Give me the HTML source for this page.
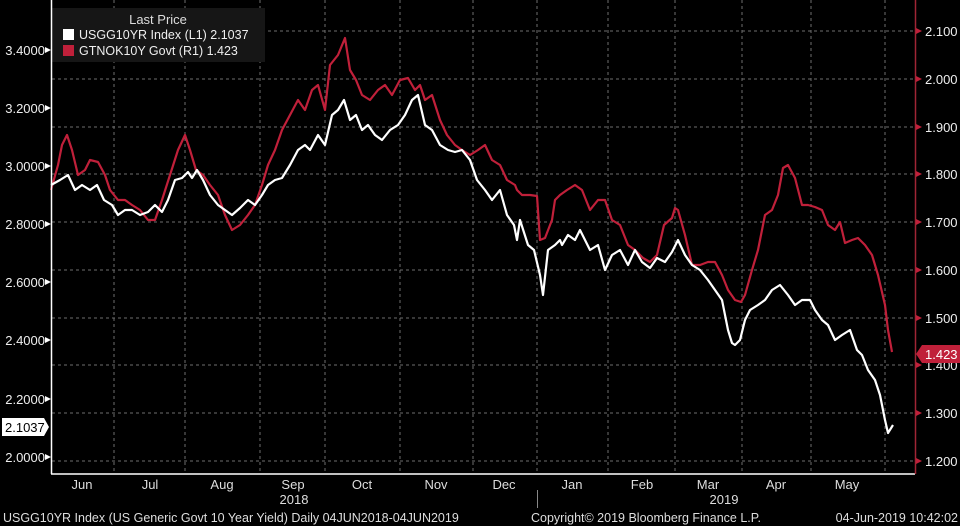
<!DOCTYPE html>
<html><head><meta charset="utf-8"><style>
html,body{margin:0;padding:0;background:#000;}
svg{display:block;font-family:"Liberation Sans",sans-serif;}
</style></head><body>
<svg width="960" height="526" viewBox="0 0 960 526" xmlns="http://www.w3.org/2000/svg">
<rect width="960" height="526" fill="#000"/>
<g stroke="#8a8a8a" stroke-width="1" stroke-dasharray="3,3" opacity="0.8">
<line x1="52" y1="31" x2="915" y2="31"/><line x1="52" y1="79" x2="915" y2="79"/>
<line x1="52" y1="127" x2="915" y2="127"/><line x1="52" y1="174" x2="915" y2="174"/>
<line x1="52" y1="222" x2="915" y2="222"/><line x1="52" y1="270" x2="915" y2="270"/>
<line x1="52" y1="318" x2="915" y2="318"/><line x1="52" y1="365" x2="915" y2="365"/>
<line x1="52" y1="413" x2="915" y2="413"/><line x1="52" y1="461" x2="915" y2="461"/>
<line x1="114" y1="0" x2="114" y2="474"/><line x1="185" y1="0" x2="185" y2="474"/>
<line x1="260" y1="0" x2="260" y2="474"/><line x1="325" y1="0" x2="325" y2="474"/>
<line x1="400" y1="0" x2="400" y2="474"/><line x1="473" y1="0" x2="473" y2="474"/>
<line x1="537" y1="0" x2="537" y2="474"/><line x1="608" y1="0" x2="608" y2="474"/>
<line x1="675" y1="0" x2="675" y2="474"/><line x1="742" y1="0" x2="742" y2="474"/>
<line x1="811" y1="0" x2="811" y2="474"/><line x1="885" y1="0" x2="885" y2="474"/>
</g>
<rect x="52" y="8" width="213" height="54" fill="#161616"/>
<text x="158" y="24" fill="#ddd" font-size="13" text-anchor="middle">Last Price</text>
<rect x="63" y="29" width="11" height="11" fill="#fff"/>
<text x="79" y="39" fill="#eee" font-size="12.5">USGG10YR Index  (L1) 2.1037</text>
<rect x="63" y="45" width="11" height="11" fill="#c0203a"/>
<text x="79" y="55" fill="#eee" font-size="12.5">GTNOK10Y Govt  (R1)  1.423</text>
<polyline fill="none" stroke="#c0203a" stroke-width="2.2" stroke-linejoin="round" points="51,190 58,165 62,145 67,135 72,150 78,175 85,170 90,160 98,162 105,175 110,190 118,200 125,200 132,205 140,210 148,220 155,220 162,200 170,175 178,150 185,135 190,150 196,170 203,175 210,185 218,195 225,215 232,230 240,225 248,215 255,205 262,185 268,165 275,150 282,130 290,115 298,100 305,110 312,90 318,85 325,110 330,65 338,55 345,38 350,70 356,80 362,95 370,100 378,90 385,85 392,95 400,80 408,78 415,90 420,85 425,100 432,95 440,120 447,135 455,145 462,150 470,155 478,150 485,145 492,160 500,165 507,180 515,185 517,190 522,195 530,195 537,196 540,240 545,238 552,220 555,200 560,195 567,190 575,185 582,190 590,210 598,200 605,200 612,220 620,225 628,245 635,250 643,258 650,262 657,255 664,225 672,218 675,208 678,210 685,235 692,265 700,265 708,262 715,262 722,275 728,290 735,300 741,302 745,295 752,270 758,250 765,215 772,210 778,195 783,168 788,165 795,178 802,205 808,205 815,207 822,210 828,225 835,230 840,222 845,243 852,240 858,238 865,245 872,255 878,275 885,305 888,330 892,352"/>
<polyline fill="none" stroke="#fff" stroke-width="2.2" stroke-linejoin="round" points="51,185 60,180 68,175 75,190 82,185 90,190 97,185 104,200 112,205 118,215 125,210 132,210 140,215 148,212 155,205 162,212 168,200 175,180 182,178 188,172 192,178 197,170 203,180 210,195 218,205 225,210 232,215 240,208 248,200 255,205 262,195 268,185 275,180 282,178 290,165 298,150 305,145 310,150 318,135 325,145 332,115 338,110 344,100 350,120 356,115 362,130 368,125 375,135 382,140 390,130 398,125 405,115 412,100 418,95 425,125 432,130 440,145 448,150 455,152 462,150 470,160 477,180 485,190 492,200 500,190 507,215 514,225 517,240 520,220 528,245 534,250 540,275 543,295 548,250 555,245 560,240 562,245 568,235 575,240 580,230 590,250 598,245 605,270 612,255 620,250 628,265 635,250 642,262 650,268 657,258 665,262 672,252 678,240 685,255 692,265 700,270 708,280 715,290 722,300 728,330 732,343 735,345 740,340 745,320 750,310 758,305 765,300 772,290 780,285 788,295 795,305 802,300 810,300 815,310 822,320 828,325 835,340 842,335 850,330 857,350 862,355 868,370 875,380 880,395 885,420 888,433 893,425"/>
<line x1="51.5" y1="0" x2="51.5" y2="474" stroke="#fff" stroke-width="1.5"/>
<line x1="51" y1="474" x2="915" y2="474" stroke="#fff" stroke-width="1.5"/>
<line x1="915.5" y1="0" x2="915.5" y2="474" stroke="#a02535" stroke-width="1.5"/>
<g fill="#eee" font-size="13" text-anchor="end">
<text x="45" y="55">3.4000</text><text x="45" y="113">3.2000</text><text x="45" y="171">3.0000</text>
<text x="45" y="229">2.8000</text><text x="45" y="287">2.6000</text><text x="45" y="345">2.4000</text>
<text x="45" y="404">2.2000</text><text x="45" y="462">2.0000</text>
</g>
<g fill="#fff"><polygon points="45,47 51,50 45,53"/><polygon points="45,105 51,108 45,111"/><polygon points="45,163 51,166 45,169"/><polygon points="45,221 51,224 45,227"/><polygon points="45,279 51,282 45,285"/><polygon points="45,337 51,340 45,343"/><polygon points="45,396 51,399 45,402"/><polygon points="45,454 51,457 45,460"/></g>
<g fill="#c0203a"><polygon points="916,28 922,31 916,34"/><polygon points="916,76 922,79 916,82"/><polygon points="916,124 922,127 916,130"/><polygon points="916,171 922,174 916,177"/><polygon points="916,219 922,222 916,225"/><polygon points="916,267 922,270 916,273"/><polygon points="916,315 922,318 916,321"/><polygon points="916,362 922,365 916,368"/><polygon points="916,410 922,413 916,416"/><polygon points="916,458 922,461 916,464"/></g>
<g fill="#eee" font-size="13">
<text x="925" y="36">2.100</text><text x="925" y="84">2.000</text><text x="925" y="132">1.900</text>
<text x="925" y="179">1.800</text><text x="925" y="227">1.700</text><text x="925" y="275">1.600</text>
<text x="925" y="323">1.500</text><text x="925" y="370">1.400</text><text x="925" y="418">1.300</text>
<text x="925" y="466">1.200</text>
</g>
<polygon points="2,418 44,418 49,427 44,436 2,436" fill="#fff"/>
<text x="5" y="432" fill="#000" font-size="13">2.1037</text>
<polygon points="916,354 922,345 960,345 960,363 922,363" fill="#c0203a"/>
<text x="925" y="359" fill="#fff" font-size="13">1.423</text>
<g fill="#ddd" font-size="13" text-anchor="middle">
<text x="82" y="489">Jun</text><text x="150" y="489">Jul</text><text x="222" y="489">Aug</text>
<text x="293" y="489">Sep</text><text x="362" y="489">Oct</text><text x="436" y="489">Nov</text>
<text x="504" y="489">Dec</text><text x="572" y="489">Jan</text><text x="642" y="489">Feb</text>
<text x="708" y="489">Mar</text><text x="776" y="489">Apr</text><text x="847" y="489">May</text>
<text x="294" y="504">2018</text><text x="724" y="504">2019</text>
</g>
<line x1="537.5" y1="490" x2="537.5" y2="508" stroke="#888"/>
<g fill="#ddd" font-size="12.5">
<text x="3" y="522">USGG10YR Index (US Generic Govt 10 Year Yield)  Daily 04JUN2018-04JUN2019</text>
<text x="531" y="522">Copyright© 2019 Bloomberg Finance L.P.</text>
<text x="958" y="522" text-anchor="end">04-Jun-2019 10:42:02</text>
</g>
</svg>
</body></html>
